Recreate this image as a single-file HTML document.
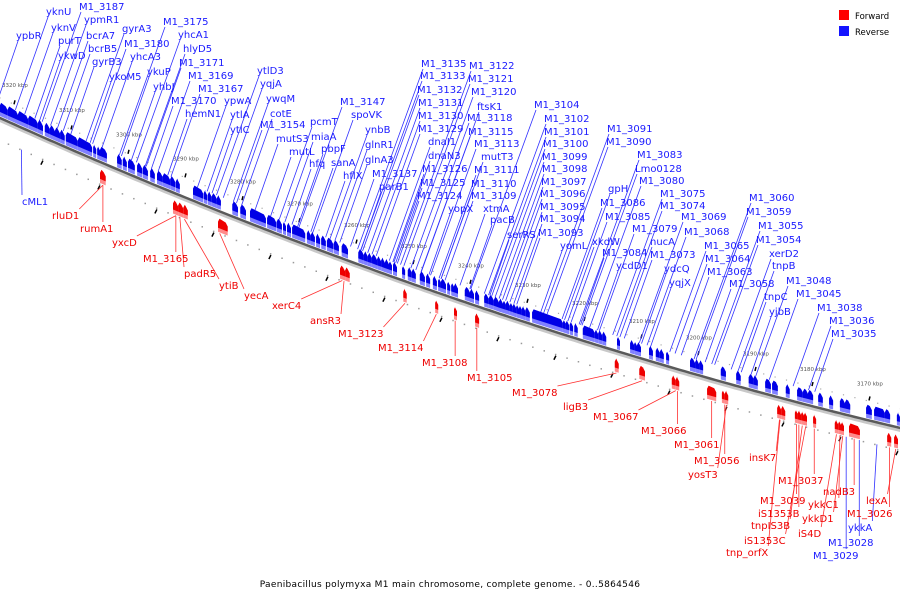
<!DOCTYPE html>
<html><head><meta charset="utf-8">
<style>
html,body{margin:0;padding:0;background:#fff;}
svg{display:block;font-family:"DejaVu Sans","Liberation Sans",sans-serif;}
</style></head>
<body>
<svg id="chart" width="900" height="600" viewBox="0 0 900 600" xmlns="http://www.w3.org/2000/svg">
  <rect width="900" height="600" fill="#fff"/>
  <g id="ticks"></g>
  <g id="leaders"></g>
  <g id="track"></g>
  <g id="genes"></g>
  <g id="labels"></g>
  <g>
    <rect x="839" y="10" width="10" height="10" fill="#f00"/>
    <text x="855" y="19" font-size="8.5" fill="#000">Forward</text>
    <rect x="839" y="26" width="10" height="10" fill="#1414ff"/>
    <text x="855" y="35" font-size="8.5" fill="#000">Reverse</text>
  </g>
  <text x="450" y="587" font-size="9" text-anchor="middle" letter-spacing="0.3" fill="#000">Paenibacillus polymyxa M1 main chromosome, complete genome. - 0..5864546</text>
</svg>
<script>
// ---- data ----
const axisTicks = [3320,3310,3300,3290,3280,3270,3260,3250,3240,3230,3220,3210,3200,3190,3180,3170];
const reverseStarts = [3320.4,3319.0,3317.2,3315.4,3313.7,3312.5,3311.6,3310.7,3309.8,3308.8,3306.7,3304.0,3303.3,3302.8,3299.8,3298.8,3297.9,3296.3,3295.3,3294.0,3292.8,3291.8,3290.5,3289.5,3286.5,3284.6,3283.9,3283.2,3282.3,3279.6,3278.2,3276.5,3273.5,3271.8,3270.7,3270.0,3269.1,3266.5,3265.8,3264.9,3264.0,3263.0,3261.8,3260.4,3257.5,3256.5,3255.8,3255.1,3254.2,3253.5,3252.8,3252.1,3251.4,3249.8,3248.8,3248.1,3246.7,3245.6,3244.4,3243.5,3243.0,3241.9,3241.2,3240.7,3238.8,3237.9,3237.0,3235.4,3234.6,3233.7,3232.8,3232.1,3231.6,3230.9,3230.4,3229.8,3229.3,3228.8,3228.2,3227.0,3221.6,3221.1,3220.4,3219.6,3218.1,3216.0,3215.4,3214.7,3212.1,3209.8,3209.1,3208.6,3206.5,3205.3,3204.6,3203.5,3199.3,3198.4,3197.7,3193.9,3191.2,3189.0,3188.2,3186.1,3184.9,3182.5,3180.5,3179.5,3178.6,3176.8,3174.9,3173.0,3172.1,3168.4,3167.0,3165.1,3163.0];
const reverseEnds   = [3319.0,3317.2,3315.4,3313.7,3312.8,3311.6,3310.7,3309.8,3309.0,3306.7,3304.2,3303.5,3302.8,3301.6,3299.0,3298.1,3296.7,3295.4,3294.4,3293.2,3291.8,3290.5,3289.6,3288.8,3284.7,3284.0,3283.2,3282.3,3281.6,3278.6,3277.2,3273.7,3271.9,3270.9,3270.2,3269.3,3266.8,3265.8,3265.1,3264.2,3263.2,3261.9,3260.9,3259.3,3256.5,3255.8,3255.1,3254.2,3253.5,3252.8,3252.1,3251.6,3250.7,3249.3,3248.1,3247.4,3245.8,3244.9,3243.7,3243.0,3242.1,3241.4,3240.7,3240.0,3237.9,3237.2,3236.3,3234.6,3233.7,3232.8,3232.1,3231.6,3230.9,3230.4,3229.8,3229.3,3228.8,3228.2,3227.4,3221.6,3221.1,3220.5,3219.8,3219.0,3216.0,3215.4,3214.7,3214.0,3211.6,3209.1,3208.6,3207.9,3205.8,3204.6,3203.9,3203.0,3198.4,3197.7,3197.0,3193.0,3190.4,3188.1,3187.4,3185.1,3183.9,3181.8,3179.5,3178.6,3177.7,3176.0,3174.2,3172.1,3171.2,3167.4,3165.1,3164.2,3162.5];
const forwardStarts = [3302.8,3290.0,3289.1,3288.2,3282.1,3260.7,3259.8,3249.6,3244.0,3240.7,3237.0,3212.5,3208.2,3202.5,3201.8,3196.3,3193.7,3193.2,3184.0,3183.3,3180.9,3180.4,3179.8,3179.3,3177.7,3173.9,3173.3,3172.8,3171.4,3164.7,3163.5];
const forwardEnds   = [3301.8,3289.1,3288.2,3287.4,3280.4,3259.8,3259.0,3249.0,3243.5,3240.2,3236.3,3211.8,3207.2,3201.8,3201.2,3194.7,3193.2,3192.6,3183.3,3182.6,3180.4,3179.8,3179.3,3178.8,3177.2,3173.3,3172.8,3172.3,3169.5,3164.0,3162.8];
const reverseNames = ["ypbR","yknU","M1_3187","ypmR1","yknV","gyrA3","bcrA7","purT","M1_3180","M1_3175","yhcA1","bcrB5","hlyD5","ykwD","yhcA3","gyrB3","M1_3171","ykuP","ykoM5","M1_3169","yhbJ","M1_3167","M1_3170","ypwA","hemN1","ytlA","ytlC","ytlD3","yqjA","ywqM","cotE","M1_3154","mutS3","mutL","pcmT","miaA","pbpF","hfq","sanA","hflX","M1_3147","spoVK","ynbB","glnR1","glnA3","M1_3137","parB1","M1_3135","M1_3133","M1_3132","M1_3131","M1_3130","M1_3129","dnaI1","dnaN3","M1_3126","M1_3125","M1_3124","yopX","M1_3122","M1_3121","M1_3120","ftsK1","M1_3118","M1_3115","M1_3113","mutT3","M1_3111","M1_3110","M1_3109","xtmA","pacB","serRS","M1_3104","M1_3102","M1_3101","M1_3100","M1_3099","M1_3098","M1_3097","M1_3096","M1_3095","M1_3094","M1_3093","yomL","M1_3091","M1_3090","gpH","M1_3086","M1_3085","xkdW","M1_3084","ycdD1","M1_3083","Lmo0128","M1_3080","M1_3075","M1_3074","M1_3069","M1_3079","nucA","M1_3068","M1_3073","ydcQ","yqjX","M1_3065","M1_3064","M1_3063","M1_3058","M1_3060","M1_3059","M1_3055","M1_3054","xerD2","tnpB","tnpC","yjbB","M1_3048","M1_3045","M1_3038","M1_3036","M1_3035"];
const forwardNames = ["rluD1","rumA1","yxcD","M1_3165","padR5","ytiB","yecA","xerC4","ansR3","M1_3123","M1_3114","M1_3108","M1_3105","M1_3078","ligB3","M1_3067","M1_3066","M1_3061","M1_3056","yosT3","insK7","M1_3037","M1_3039","iS1353B","tnpIS3B","iS1353C","tnp_orfX","nadB3","ykkC1","ykkD1","iS4D","lexA","M1_3026"];
const forwardAnchorKbp = [3302.3,3302.3,3289.5,3289.5,3288.8,3288.0,3281.8,3260.3,3260.0,3249.3,3243.8,3240.5,3236.7,3212.2,3207.7,3201.8,3201.5,3195.5,3193.2,3192.9,3183.6,3177.5,3180.6,3180.2,3179.6,3179.0,3183.5,3170.5,3173.0,3172.5,3173.6,3163.2,3164.3];
const belowNames = ["cML1","ykkA","M1_3028","M1_3029"];
const belowAnchorKbp = [3316.6,3166.5,3169.6,3171.9];

// ---- layout (label positions, px) ----
const reverseLabelPos = [[16,35],[46,11],[79,6],[84,19],[51,27],[122,28],[86,35],[58,40],[124,43],[163,21],[178,34],[88,48],[183,48],[58,55],[130,56],[92,61],[179,62],[147,71],[109,76],[188,75],[153,86],[198,88],[171,100],[224,100],[185,113],[230,114],[230,129],[257,70],[260,83],[266,98],[270,113],[260,124],[276,138],[289,151],[310,121],[311,136],[321,148],[309,163],[331,162],[343,175],[340,101],[351,114],[365,129],[365,144],[365,159],[372,173],[379,186],[421,63],[420,75],[417,89],[418,102],[418,115],[418,128],[428,141],[428,155],[422,168],[420,182],[417,195],[448,208],[469,65],[468,78],[471,91],[477,106],[467,117],[468,131],[474,143],[481,156],[474,169],[471,183],[471,195],[483,208],[490,219],[507,234],[534,104],[544,118],[544,131],[543,143],[542,156],[542,168],[541,181],[540,193],[540,206],[540,218],[538,232],[560,245],[607,128],[606,141],[608,188],[600,202],[605,216],[592,241],[602,252],[616,265],[637,154],[635,168],[639,180],[660,193],[660,205],[681,216],[632,228],[650,241],[684,231],[650,254],[664,268],[669,282],[704,245],[705,258],[707,271],[729,283],[749,197],[746,211],[758,225],[756,239],[769,253],[772,265],[764,296],[769,311],[786,280],[796,293],[817,307],[829,320],[831,333]];
const forwardLabelPos = [[52,215],[80,228],[112,242],[143,258],[184,273],[219,285],[244,295],[272,305],[310,320],[338,333],[378,347],[422,362],[467,377],[512,392],[563,406],[593,416],[641,430],[674,444],[694,460],[688,474],[749,457],[778,480],[760,500],[758,513],[751,525],[744,540],[726,552],[823,491],[808,504],[802,518],[798,533],[866,500],[847,513]];
const belowLabelPos = [[22,201],[848,527],[828,542],[813,555]];

// ---- scales ----
const X = k => 2 + (3320 - k) * 5.7;
const L = x => 118 + 0.451 * x - 1.185e-4 * x * x;
const NS = "http://www.w3.org/2000/svg";
function mk(tag, parent, attrs) {
  const e = document.createElementNS(NS, tag);
  for (const k in attrs) e.setAttribute(k, attrs[k]);
  parent.appendChild(e);
  return e;
}
const gT = document.getElementById('ticks'), gL = document.getElementById('leaders'),
      gTr = document.getElementById('track'), gG = document.getElementById('genes'),
      gLab = document.getElementById('labels');

// track line
let pts = [];
for (let x = -5; x <= 905; x += 5) pts.push(x + ',' + L(x).toFixed(1));
let sh = mk('polyline', gTr, {points: pts.map(p => { const [a,b]=p.split(','); return a+','+(+b+2.5); }).join(' '), fill:'none', stroke:'#c8c8c8', 'stroke-width':3});


let tl = mk('polyline', gTr, {points: pts.join(' '), fill:'none', stroke:'#5a5a5a', 'stroke-width':2.5});



// dots rows
for (let k = 3321; k >= 3160; k -= 2) {
  const x = X(k);
  let d1 = mk('rect', gT, {x: x, y: L(x) + 22, width: 1.5, height: 1.5, fill: '#999'});
  
  
  let d2 = mk('rect', gT, {x: x + 3, y: L(x) - 19, width: 1.2, height: 1.2, fill: '#aaa'});
  
  
}
for (let k = 3313; k >= 3160; k -= 10) {
  const x = X(k);
  let b = mk('line', gT, {x1: x - 1, y1: L(x) + 28, x2: x + 1, y2: L(x) + 24, stroke: '#000', 'stroke-width': 1.5});
  
  
}
// kbp labels
axisTicks.forEach(k => {
  const x = X(k);
  let t = mk('text', gT, {x: x, y: L(x) - 32, 'font-size': 5.5, fill: '#555'});
  t.textContent = k + ' kbp';
  
  
  let m = mk('line', gT, {x1: x + 12, y1: L(x + 12) - 20, x2: x + 13, y2: L(x + 12) - 24, stroke: '#000', 'stroke-width': 1.5});
  
  
});

// genes
function gene(a, b, fwd) {
  let x1 = X(a), x2 = X(b);
  if (x2 - x1 < 3) x2 = x1 + 3;
  const y1 = L(x1), y2 = L(x2);
  const off = fwd ? [8, 21] : [-15, -2];
  const main = fwd ? '#ee0000' : '#0000e6';
  const light = fwd ? '#ff8a8a' : '#8080ff';
  const g = mk('g', gG, {});
  
  
  const p = [[x1, y1 + off[0] + 3], [x1 + 1.5, y1 + off[0]], [x2 - 2, y2 + off[0]], [x2, y2 + off[0] + 4], [x2, y2 + off[1]], [x1, y1 + off[1]]];
  mk('polygon', g, {points: p.map(q => q[0].toFixed(1) + ',' + q[1].toFixed(1)).join(' '), fill: light});
  const p2 = [[x1, y1 + off[0] + 3], [x1 + 1.5, y1 + off[0]], [x2 - 2, y2 + off[0]], [x2, y2 + off[0] + 4], [x2, y2 + off[1] - 4], [x1, y1 + off[1] - 4]];
  mk('polygon', g, {points: p2.map(q => q[0].toFixed(1) + ',' + q[1].toFixed(1)).join(' '), fill: main});
}
reverseStarts.forEach((s, i) => gene(s, reverseEnds[i], false));
forwardStarts.forEach((s, i) => gene(s, forwardEnds[i], true));

// labels
function label(name, pos, color, dn) {
  const t = mk('text', gLab, {x: pos[0], y: pos[1] + 4, 'font-size': 10, fill: color});
  t.textContent = name;
  
  
  return t.getComputedTextLength();
}
reverseNames.forEach((n, i) => {
  const p = reverseLabelPos[i];
  const w = label(n, p, '#1a1aff', 'reverse-gene-label');
  let ex = p[0] + 4 - 0.38 * (L(p[0]) - 14 - p[1] - 6);
  ex = p[0] + 4 - 0.38 * (L(ex) - 14 - p[1] - 6);
  const ln = mk('line', gL, {x1: p[0] + 2, y1: p[1] + 6, x2: ex, y2: L(ex) - 15, stroke: '#3030ff', 'stroke-width': 0.8});
  
  
});
forwardNames.forEach((n, i) => {
  const p = forwardLabelPos[i];
  const w = label(n, p, '#ee0000', 'forward-gene-label');
  const ax = X(forwardAnchorKbp[i]), ay = L(ax) + 22;
  const sx = Math.max(p[0], Math.min(p[0] + w, ax));
  const ln = mk('line', gL, {x1: sx, y1: p[1] - 6, x2: ax, y2: ay, stroke: '#ff3030', 'stroke-width': 0.8});
  
  
});
belowNames.forEach((n, i) => {
  const p = belowLabelPos[i];
  const w = label(n, p, '#1a1aff', 'reverse-gene-label');
  const ax = X(belowAnchorKbp[i]), ay = L(ax) + 22;
  const sx = Math.max(p[0], Math.min(p[0] + w, ax));
  const ln = mk('line', gL, {x1: sx, y1: p[1] - 6, x2: ax, y2: ay, stroke: '#3030ff', 'stroke-width': 0.8});
  
  
});
</script>
</body></html>
